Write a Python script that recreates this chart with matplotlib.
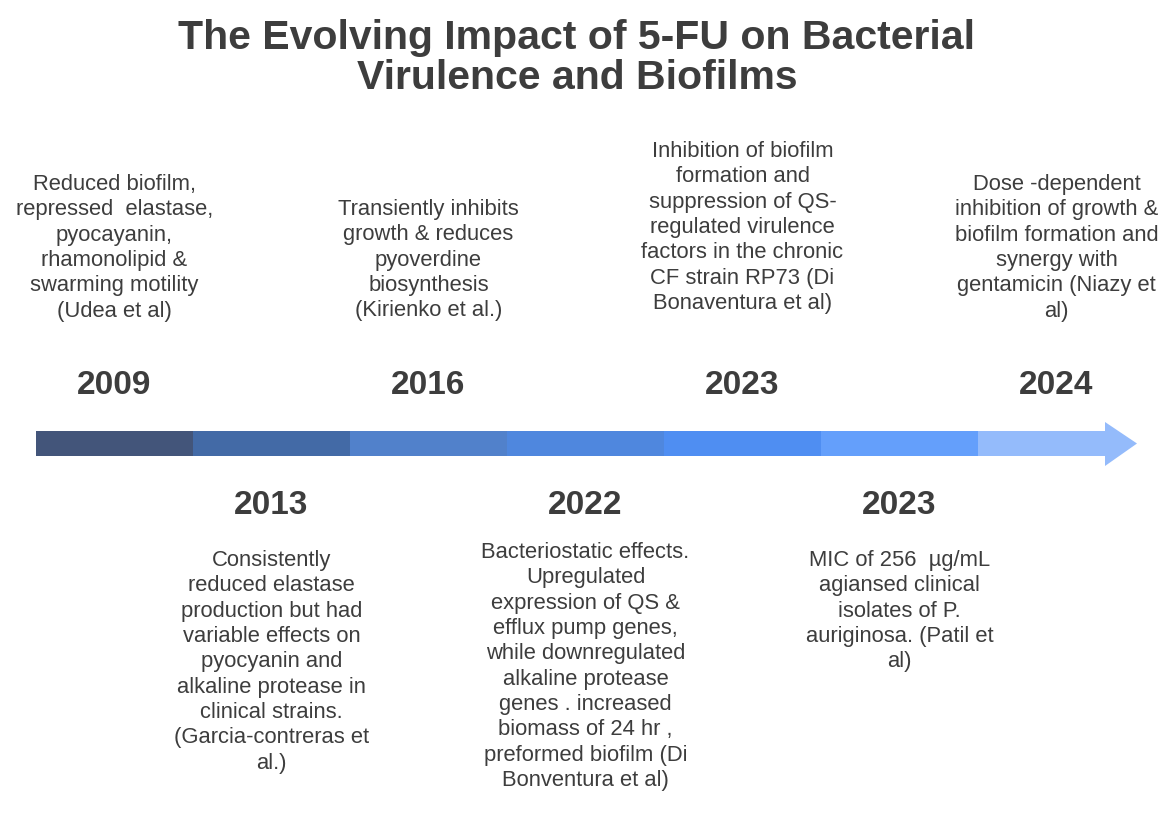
import matplotlib
matplotlib.use("Agg")
import matplotlib.pyplot as plt
from matplotlib.patches import Rectangle, Polygon

title = "The Evolving Impact of 5-FU on Bacterial\nVirulence and Biofilms"
years = ["2009", "2013", "2016", "2022", "2023", "2023", "2024"]
positions = ["above", "below", "above", "below", "above", "below", "above"]
texts = [
    "Reduced biofilm,\nrepressed  elastase,\npyocayanin,\nrhamonolipid &\nswarming motility\n(Udea et al)",
    "Consistently\nreduced elastase\nproduction but had\nvariable effects on\npyocyanin and\nalkaline protease in\nclinical strains.\n(Garcia-contreras et\nal.)",
    "Transiently inhibits\ngrowth & reduces\npyoverdine\nbiosynthesis\n(Kirienko et al.)",
    "Bacteriostatic effects.\nUpregulated\nexpression of QS &\nefflux pump genes,\nwhile downregulated\nalkaline protease\ngenes . increased\nbiomass of 24 hr ,\npreformed biofilm (Di\nBonventura et al)",
    "Inhibition of biofilm\nformation and\nsuppression of QS-\nregulated virulence\nfactors in the chronic\nCF strain RP73 (Di\nBonaventura et al)",
    "MIC of 256  µg/mL\nagiansed clinical\nisolates of P.\nauriginosa. (Patil et\nal)",
    "Dose -dependent\ninhibition of growth &\nbiofilm formation and\nsynergy with\ngentamicin (Niazy et\nal)",
]
seg_colors = ["#43557a", "#436aa6", "#5181cb", "#4f87de", "#4f8ef2", "#649ffb", "#94bbfb"]
first_line_y = [187, 563, 212, 555, 154, 563, 187]

W, H = 1169, 839
fig = plt.figure(figsize=(W / 100, H / 100), dpi=100)
ax = fig.add_axes([0, 0, 1, 1])
ax.set_xlim(0, W)
ax.set_ylim(H, 0)
ax.axis("off")

font = "Liberation Sans"
tc = "#3d3d3d"
ax.text(577, 58, title, ha="center", va="center", fontsize=29.5, fontweight="bold",
        color=tc, family=font, linespacing=1.08)

x0, seg_w = 36, 157
bar_top, bar_h = 431, 25
for i, c in enumerate(seg_colors):
    w = seg_w if i < len(seg_colors) - 1 else 1106 - (x0 + seg_w * i)
    ax.add_patch(Rectangle((x0 + seg_w * i, bar_top), w, bar_h, color=c, lw=0))
ax.add_patch(Polygon([(1105, 422), (1137, 443.5), (1105, 466)], closed=True,
                     color=seg_colors[-1], lw=0))

for i, (yr, pos, t) in enumerate(zip(years, positions, texts)):
    xc = x0 + seg_w * i + seg_w / 2
    yy = 385 if pos == "above" else 505
    ax.text(xc, yy, yr, ha="center", va="center", fontsize=24, fontweight="bold",
            color=tc, family=font)
    ax.text(xc, first_line_y[i] - 13, t, ha="center", va="top", fontsize=15.8,
            color=tc, family=font, linespacing=1.27)

fig.savefig("out.png", dpi=100)
